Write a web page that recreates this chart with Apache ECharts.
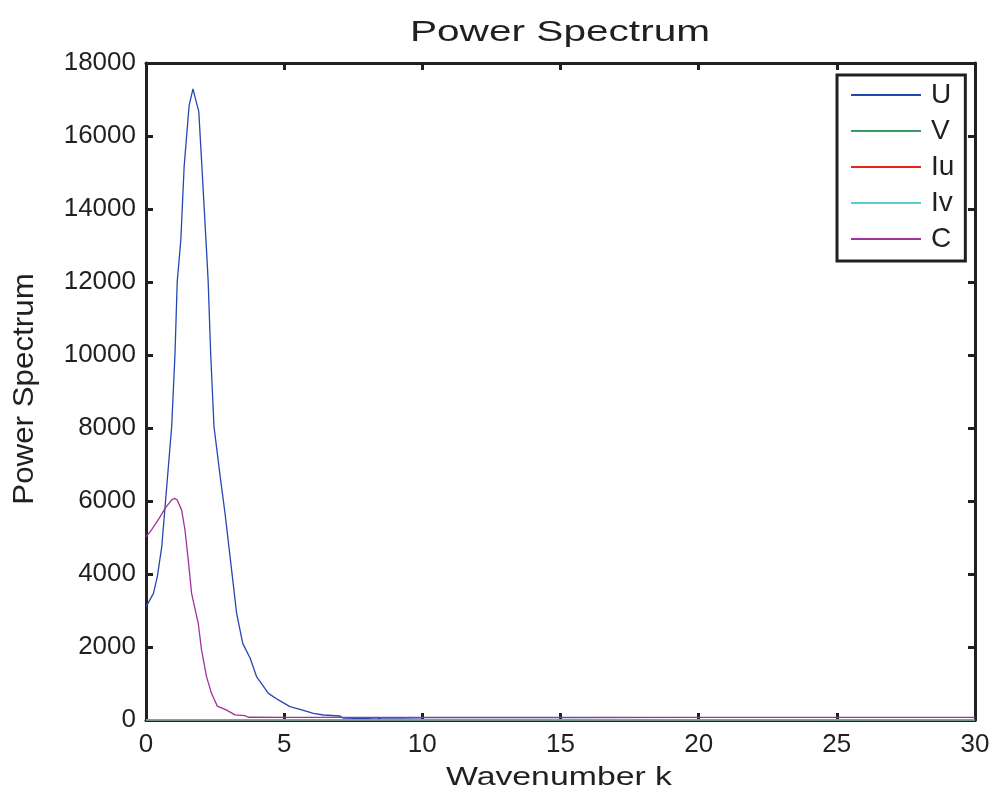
<!DOCTYPE html>
<html>
<head>
<meta charset="utf-8">
<script src="https://cdn.jsdelivr.net/npm/echarts@6/dist/echarts.min.js"></script>
<style>
html,body{margin:0;padding:0;background:#fff;}
#chart{width:996px;height:797px;}
</style>
</head>
<body>
<div id="chart"></div>
<script>
// ---- data ----
var seriesNames = ['U', 'V', 'Iu', 'Iv', 'C'];
var xTicks = [0, 5, 10, 15, 20, 25, 30];
var yTicks = [0, 2000, 4000, 6000, 8000, 10000, 12000, 14000, 16000, 18000];

var uK   = [0, 0.27, 0.41, 0.57, 0.69, 0.77, 0.93, 1.05, 1.13, 1.26, 1.38, 1.56, 1.70, 1.91, 2.01, 2.21, 2.25, 2.34, 2.46, 2.70, 2.86, 3.07, 3.28, 3.50, 3.77, 4.00, 4.43, 4.79, 5.21, 5.57, 6.06, 6.42, 7.02, 7.14, 8.0, 8.3, 8.5, 10, 15, 20, 25, 30];
var uVal = [3100, 3470, 3930, 4750, 5840, 6580, 8040, 10050, 12010, 13150, 15160, 16830, 17290, 16670, 15340, 12600, 12010, 10050, 8040, 6580, 5660, 4290, 2920, 2100, 1690, 1190, 730, 550, 365, 290, 183, 137, 110, 50, 40, 60, 35, 25, 15, 10, 8, 5];

var cK   = [0, 0.2, 0.44, 0.69, 0.93, 1.02, 1.13, 1.29, 1.41, 1.53, 1.65, 1.89, 2.01, 2.19, 2.37, 2.58, 2.92, 3.22, 3.58, 3.70, 5, 10, 15, 20, 25, 30];
var cVal = [5020, 5210, 5480, 5800, 6030, 6070, 6030, 5750, 5210, 4380, 3470, 2650, 1920, 1190, 730, 380, 270, 140, 120, 75, 70, 70, 70, 70, 70, 70];

var flatK  = [0, 30];
var vVal   = [0, 0];
var iuVal  = [0, 0];
var ivVal  = [0, 0];

// ---- styling ----
var colors = ['#2448b0', '#3c9a6a', '#e8231f', '#55cfd0', '#a2319c'];
var ink = '#231f20';
var FONT = '"Liberation Sans", Arial, Helvetica, sans-serif';

function pairs(k, v) { return k.map(function (x, i) { return [x, v[i]]; }); }
var seriesData = [pairs(uK, uVal), pairs(flatK, vVal), pairs(flatK, iuVal), pairs(flatK, ivVal), pairs(cK, cVal)];

var chart = echarts.init(document.getElementById('chart'), null, {renderer: 'canvas'});

function plain(v) { return String(v); }

function xAxisDef(pos, showLabel) {
  return {
    type: 'value', position: pos, min: xTicks[0], max: xTicks[xTicks.length - 1], interval: 5,
    axisLine: {show: true, onZero: false, lineStyle: {color: ink, width: 3}},
    axisTick: {show: true, inside: true, length: 7, lineStyle: {color: ink, width: 3}},
    splitLine: {show: false},
    axisLabel: {show: showLabel, margin: 12, color: ink, fontSize: 26, fontFamily: FONT, formatter: plain}
  };
}
function yAxisDef(pos, showLabel) {
  return {
    type: 'value', position: pos, min: yTicks[0], max: yTicks[yTicks.length - 1], interval: 2000,
    axisLine: {show: true, onZero: false, lineStyle: {color: ink, width: 3}},
    axisTick: {show: true, inside: true, length: 7, lineStyle: {color: ink, width: 3}},
    splitLine: {show: false},
    axisLabel: {show: showLabel, margin: 10, color: ink, fontSize: 26, fontFamily: FONT, formatter: plain}
  };
}

var option = {
  backgroundColor: '#fff',
  animation: false,
  color: colors,
  grid: {left: 146, right: 21, top: 63, bottom: 77, containLabel: false},
  xAxis: [xAxisDef('bottom', true), xAxisDef('top', false)],
  yAxis: [yAxisDef('left', true), yAxisDef('right', false)],
  legend: {
    data: seriesNames,
    orient: 'vertical',
    left: 837, top: 75,
    padding: [6, 11, 8, 14],
    itemGap: 8,
    itemWidth: 70, itemHeight: 2,
    icon: 'rect',
    backgroundColor: '#fff',
    borderColor: ink, borderWidth: 3,
    textStyle: {color: ink, fontSize: 28, fontFamily: FONT, padding: [0, 0, 0, 5]}
  },
  graphic: [
    {type: 'text', x: 560, y: 33, scaleX: 1.4, z: 10,
     style: {text: 'Power Spectrum', font: '29px ' + FONT, fill: ink, textAlign: 'center', textVerticalAlign: 'middle'}},
    {type: 'text', x: 559, y: 778, scaleX: 1.3, z: 10,
     style: {text: 'Wavenumber k', font: '26px ' + FONT, fill: ink, textAlign: 'center', textVerticalAlign: 'middle'}},
    {type: 'text', x: 25, y: 389, rotation: Math.PI / 2, scaleX: 1.08, z: 10,
     style: {text: 'Power Spectrum', font: '29px ' + FONT, fill: ink, textAlign: 'center', textVerticalAlign: 'middle'}}
  ],
  series: seriesNames.map(function (name, i) {
    return {
      name: name, type: 'line', data: seriesData[i],
      xAxisIndex: 0, yAxisIndex: 0,
      symbol: 'none', showSymbol: false, smooth: false,
      lineStyle: {color: colors[i], width: 1.3},
      itemStyle: {color: colors[i]},
      z: 3
    };
  })
};
chart.setOption(option);
</script>
</body>
</html>
